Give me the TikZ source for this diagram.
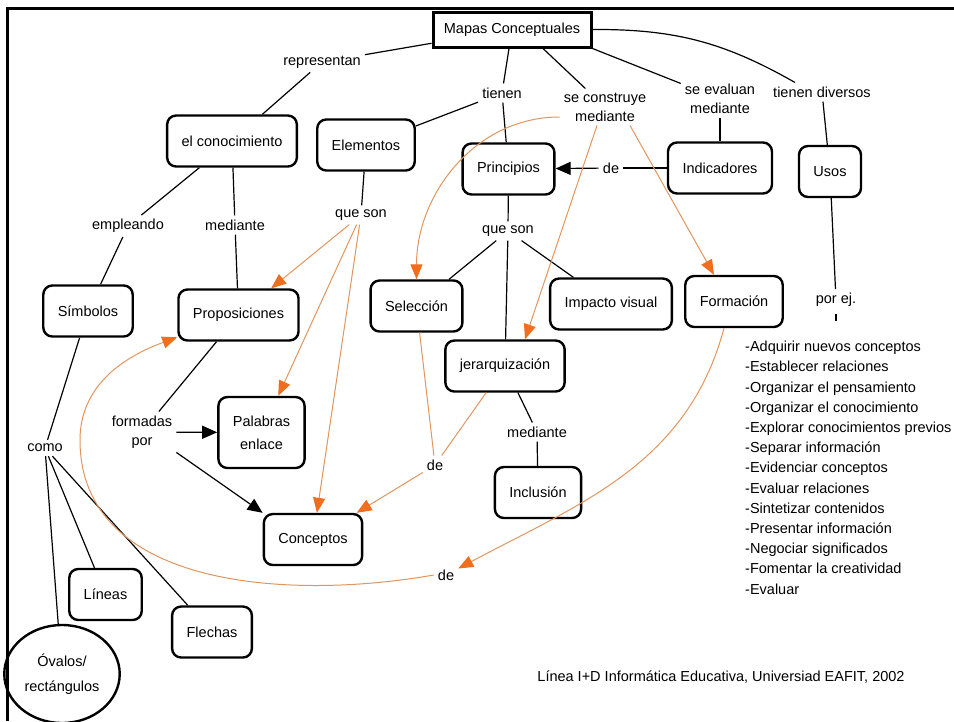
\documentclass[tikz,border=0pt]{standalone}
\usepackage{fontspec}
\setmainfont{Liberation Sans}
\usetikzlibrary{arrows.meta,shapes.geometric}
\definecolor{naranja}{RGB}{240,110,30}
\definecolor{lineaO}{RGB}{225,150,95}
\newcommand\fuente{\fontsize{14.5}{19}\selectfont}
\tikzset{
  caja/.style={draw, rounded corners=9pt, line width=2.4pt, minimum height=51pt, inner xsep=14.5pt, font=\fuente, align=center},
  enlace/.style={inner sep=4pt, font=\fuente, align=center},
  linea/.style={line width=1.2pt},
  flechaN/.style={linea, -{Triangle[length=15pt,width=13pt]}},
  lineaN/.style={draw=lineaO, line width=1pt},
  flechaO/.style={lineaN, -{Triangle[length=15pt,width=12pt,color=naranja]}},
}

\begin{document}
\begin{tikzpicture}[x=1pt,y=1pt]
	%%%%% START %%%%%
	
	\useasboundingbox (0,-721) rectangle (954,0);
	\fill[white] (0,-721) rectangle (954,0);
	\draw[line width=3pt] (7,-721) -- (7,-8) -- (954,-8);
	
	\node[draw, line width=3pt, minimum width=158pt, minimum height=35pt, font=\fuente] (mapas) at (512,-29.5) {Mapas Conceptuales};
	
	\node[enlace] (repr) at (322,-62) {representan};
	\node[enlace] (tienen) at (502,-93) {tienen};
	\node[enlace] (construye) at (605,-107) {se construye\\mediante};
	\node[enlace] (evaluan) at (720,-99) {se evaluan\\mediante};
	\node[enlace] (diversos) at (822,-92) {tienen diversos};
	
	\node[caja] (conocimiento) at (232,-141) {el conocimiento};
	\node[caja] (elementos) at (366,-145) {Elementos};
	\node[caja] (principios) at (508.5,-169) {Principios};
	\node[caja] (indicadores) at (720,-168) {Indicadores};
	\node[caja] (usos) at (830,-171.5) {Usos};
	\node[enlace] (deP) at (611,-168) {de};
	
	\node[enlace] (empleando) at (128,-226) {empleando};
	\node[enlace] (medianteA) at (235,-225) {mediante};
	\node[enlace] (quesonA) at (361,-215) {que son};
	\node[enlace] (quesonB) at (508,-231) {que son};
	
	\node[caja] (simbolos) at (88,-311) {Símbolos};
	\node[caja] (prop) at (238.5,-315) {Proposiciones};
	\node[caja] (seleccion) at (416.5,-306) {Selección};
	\node[caja] (impacto) at (611,-304) {Impacto visual};
	\node[caja] (formacion) at (734,-301.5) {Formación};
	\node[enlace] (porej) at (836,-300) {por ej.};
	\node[caja] (jerarq) at (505,-366) {jerarquización};
	
	\node[enlace] (formadas) at (142,-432) {formadas\\por};
	\node[caja, minimum height=71pt, font=\fontsize{14.5}{23}\selectfont] (palabras) at (261.5,-432.5) {Palabras\\enlace};
	\node[enlace] (como) at (45,-448) {como};
	\node[enlace] (deA) at (435,-465) {de};
	\node[enlace] (medianteB) at (537,-432) {mediante};
	\node[caja] (inclusion) at (538,-492.5) {Inclusión};
	\node[caja] (conceptos) at (313,-539.5) {Conceptos};
	\node[enlace] (deB) at (446,-575) {de};
	
	\node[caja] (lineas) at (105.5,-594.5) {Líneas};
	\node[caja] (flechas) at (212,-632) {Flechas};
	\node[draw, ellipse, line width=2.4pt, minimum width=112pt, minimum height=98pt, align=center, font=\fontsize{14.5}{25}\selectfont] (ovalos) at (62,-674) {Óvalos/\\rectángulos};
	
	\node[font=\fontsize{14.5}{20.2}\selectfont, align=left, anchor=north west, inner sep=0pt] (lista) at (745,-341) {-Adquirir nuevos conceptos\\-Establecer relaciones\\-Organizar el pensamiento\\-Organizar el conocimiento\\-Explorar conocimientos previos\\-Separar información\\-Evidenciar conceptos\\-Evaluar relaciones\\-Sintetizar contenidos\\-Presentar información\\-Negociar significados\\-Fomentar la creatividad\\-Evaluar};
	\node[enlace] (pie) at (721,-677) {Línea I+D Informática Educativa, Universiad EAFIT, 2002};
	\coordinate (vuelta) at (80,-440);
	
	\draw[linea] (mapas) -- (repr);
	\draw[linea] (repr) -- (conocimiento);
	\draw[linea] (mapas) -- (tienen);
	\draw[linea] (tienen) -- (elementos);
	\draw[linea] (tienen) -- (principios);
	\draw[linea] ([xshift=31]mapas.south) -- (construye);
	\draw[linea] (mapas.south east) -- (evaluan);
	\draw[linea] (mapas.east) to[bend left=15] ([xshift=-27]diversos.north);
	\draw[linea] (evaluan) -- (indicadores);
	\draw[linea] (indicadores) -- (deP);
	\draw[flechaN] (deP) -- (principios);
	\draw[linea] (diversos) -- (usos);
	\draw[linea] (usos) -- (porej);
	\draw[linea, shorten <=3pt, shorten >=20pt] (porej) -- (porej |- lista.north);
	
	\draw[linea] (principios) -- (quesonB);
	\draw[linea] (quesonB) -- (seleccion);
	\draw[linea] (quesonB) -- (jerarq);
	\draw[linea] (quesonB) -- (impacto);
	\draw[linea] (jerarq) -- (medianteB);
	\draw[linea] (medianteB) -- (inclusion);
	
	\draw[linea] (conocimiento) -- (empleando);
	\draw[linea] (conocimiento) -- (medianteA);
	\draw[linea] (elementos) -- (quesonA);
	\draw[linea] (empleando) -- (simbolos);
	\draw[linea] (medianteA) -- (prop);
	\draw[linea] (simbolos) -- (como);
	\draw[linea] (prop) -- (formadas);
	\draw[flechaN] (formadas) -- (palabras);
	\draw[flechaN] (formadas.south east) -- (conceptos.north west);
	\draw[linea] (como) -- (lineas);
	\draw[linea] (como) -- (flechas);
	\draw[linea] (como) -- (ovalos);
	
	\draw[flechaO] ([yshift=-10]construye.west) to[out=180, in=90] (seleccion.north);
	\draw[flechaO] ([xshift=-8]construye.south) -- ([xshift=20]jerarq.north);
	\draw[flechaO] ([xshift=25]construye.south) -- ([xshift=-20]formacion.north);
	\draw[flechaO] (quesonA) -- (prop);
	\draw[flechaO] (quesonA) -- (palabras);
	\draw[flechaO] (quesonA) -- (conceptos);
	\draw[lineaN] (seleccion) -- (deA);
	\draw[lineaN] (jerarq) -- (deA);
	\draw[flechaO] (deA) -- (conceptos);
	\draw[flechaO] ([xshift=-10]formacion.south) to[out=-105, in=28] (deB);
	\draw[flechaO] (deB.west) to[out=190, in=-90] (vuelta) to[out=90, in=200] (prop.200);
	
	%%%%% END %%%%%
\end{tikzpicture}
\end{document}
